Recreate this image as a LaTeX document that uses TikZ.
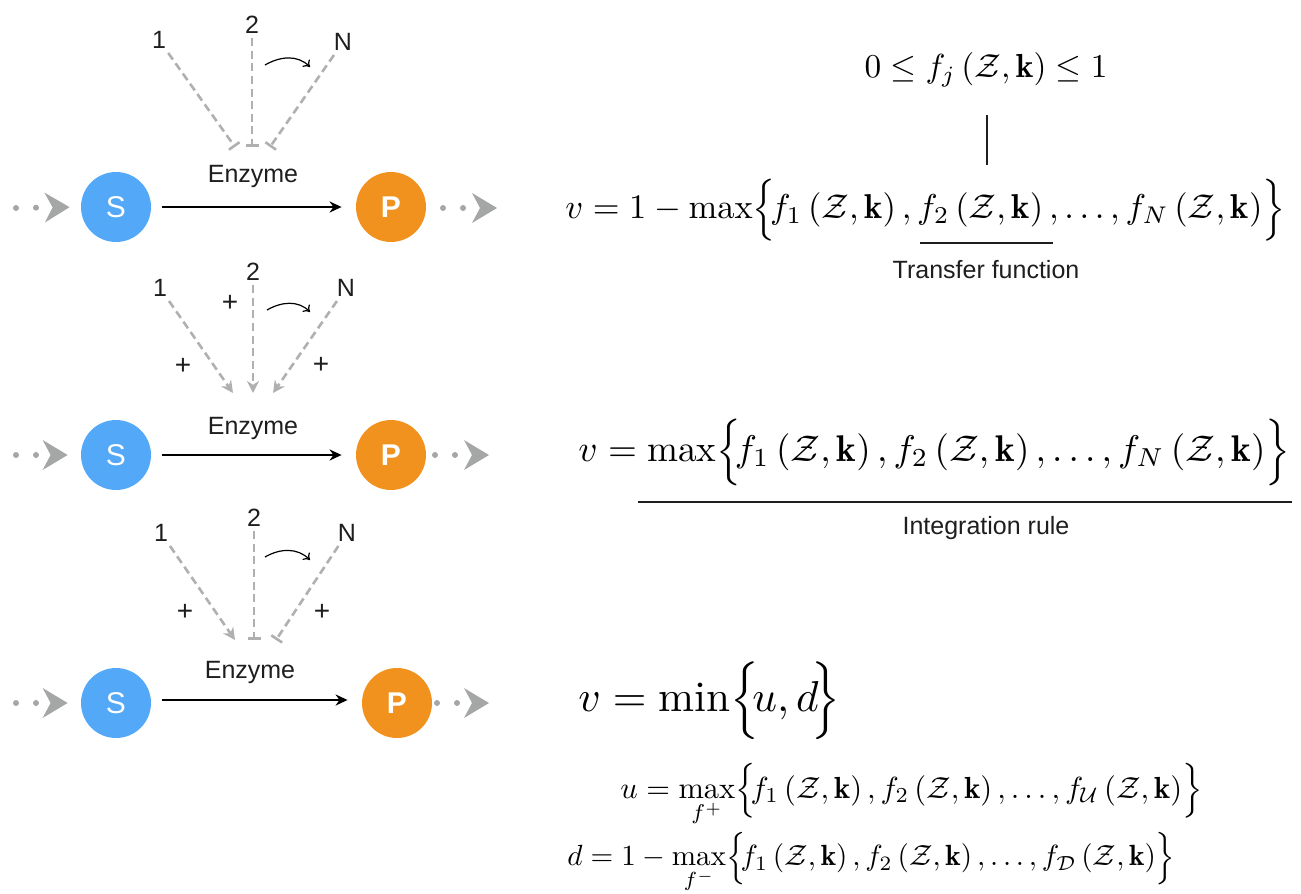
\documentclass[tikz,border=0pt]{standalone}
\usepackage{amsmath,amssymb}
\usepackage{fontspec}
\usetikzlibrary{arrows.meta}
\newfontfamily\hv{Liberation Sans}
\definecolor{sblue}{RGB}{83,168,248}
\definecolor{porange}{RGB}{242,146,30}
\definecolor{lgray}{RGB}{176,176,176}
\definecolor{cgray}{RGB}{165,167,166}
\definecolor{txt}{RGB}{30,30,30}
\newcommand{\ZK}{\left(\mathcal{Z},\mathbf{k}\right)}
\newcommand{\LB}{\!\Big\{\!}
\newcommand{\RB}{\!\Big\}}
\tikzset{
  subst/.style={circle, fill=sblue, minimum size=35pt, inner sep=0pt, text=white, font=\hv\fontsize{15}{18}\selectfont},
  prod/.style={circle, fill=porange, minimum size=35pt, inner sep=0pt, text=white, font=\hv\bfseries\fontsize{15}{18}\selectfont},
  reac/.style={line width=1.4pt, shorten <=5.5pt, shorten >=7pt, -{Stealth[length=6pt,width=5.5pt]}},
  lbl/.style={font=\hv\fontsize{12.5}{14}\selectfont, text=txt, inner sep=2pt},
  plus/.style={font=\hv\fontsize{14}{15}\selectfont, text=txt, inner sep=0pt},
  inh/.style={lgray, dash pattern=on 4pt off 2.3pt, line width=1.3pt, -{Bar[width=6.5pt]}},
  act/.style={lgray, dash pattern=on 4pt off 2.3pt, line width=1.3pt, -{Stealth[length=6pt,width=6pt]}},
  feed/.style={cgray, line width=3pt, line cap=round, dash pattern=on 0pt off 10pt, -{Stealth[length=12.5pt,width=15pt,inset=4pt,line width=0pt]}},
  swirl/.style={line width=0.6pt, -{To[length=3pt,width=5pt]}},
  eq/.style={anchor=west, inner sep=0pt},
  rule/.style={line width=0.6pt, txt}
}
\begin{document}
\begin{tikzpicture}[x=0.5pt,y=-0.5pt]
\useasboundingbox (0,0) rectangle (1301,894);

% ---------- Row 1 (inhibition) ----------
\node[subst] (S1) at (116,207) {S};
\node[prod] (P1) at (391,207) {P};
\draw[reac] (S1) -- (P1);
\node[lbl] (E1) at (253,176) {Enzyme};
\coordinate (in1) at (16,208);
\coordinate (o1s) at (443,208);
\coordinate (o1) at (497,208);
\draw[feed, shorten >=5.5pt] (in1) -- (S1.west);
\draw[feed] (o1s) -- (o1);
\node[lbl] (a1) at (159,40) {1};
\node[lbl] (b1) at (252,25) {2};
\node[lbl] (n1) at (343,42) {N};
\coordinate (ta1) at (235,147);
\coordinate (tb1) at (252,147);
\coordinate (tn1) at (270,147);
\draw[inh] (a1) -- (ta1);
\draw[inh] (b1) -- (tb1);
\draw[inh] (n1) -- (tn1);
\coordinate (c1a) at (265,65);
\coordinate (c1b) at (310,67);
\draw[swirl] (c1a) to[out=30,in=135] (c1b);

% ---------- Row 2 (activation) ----------
\node[subst] (S2) at (116,455) {S};
\node[prod] (P2) at (391,455) {P};
\draw[reac] (S2) -- (P2);
\node[lbl] (E2) at (253,428) {Enzyme};
\coordinate (in2) at (16,455);
\coordinate (o2s) at (435,455);
\coordinate (o2) at (489,455);
\draw[feed, shorten >=6.5pt] (in2) -- (S2.west);
\draw[feed] (o2s) -- (o2);
\node[lbl] (a2) at (160,288) {1};
\node[lbl] (b2) at (253,272) {2};
\node[lbl] (n2) at (346,288) {N};
\coordinate (ta2) at (233,393);
\coordinate (tb2) at (253,393);
\coordinate (tn2) at (273,393);
\draw[act] (a2) -- (ta2);
\draw[act] (b2) -- (tb2);
\draw[act] (n2) -- (tn2);
\node[plus] (p2b) at (230,303) {+};
\node[plus] (p2a) at (183,366) {+};
\node[plus] (p2n) at (321,365) {+};
\coordinate (c2a) at (267,310);
\coordinate (c2b) at (310,312);
\draw[swirl] (c2a) to[out=30,in=135] (c2b);

% ---------- Row 3 (mixed) ----------
\node[subst] (S3) at (116,703) {S};
\node[prod] (P3) at (397,703) {P};
\draw[reac] (S3.east |- 0,700) -- (P3.west |- 0,700);
\node[lbl] (E3) at (250,672) {Enzyme};
\coordinate (in3) at (16,703);
\coordinate (o3s) at (437,703);
\coordinate (o3) at (489,703);
\draw[feed, shorten >=6.5pt] (in3) -- (S3.west);
\draw[feed] (o3s) -- (o3);
\node[lbl] (a3) at (161,533) {1};
\node[lbl] (b3) at (254,518) {2};
\node[lbl] (n3) at (347,533) {N};
\coordinate (ta3) at (235,640);
\coordinate (tb3) at (254,640);
\coordinate (tn3) at (276,640);
\draw[act] (a3) -- (ta3);
\draw[inh] (b3) -- (tb3);
\draw[inh] (n3) -- (tn3);
\node[plus] (p3a) at (185,612) {+};
\node[plus] (p3n) at (322,612) {+};
\coordinate (c3a) at (265,557);
\coordinate (c3b) at (310,560);
\draw[swirl] (c3a) to[out=30,in=135] (c3b);

% ---------- Equations ----------
\node[inner sep=0pt] (ineq) at (986,70) {\resizebox{121.5pt}{!}{$0\leq f_j\ZK\leq 1$}};
\coordinate (vl1) at (987,115);
\coordinate (vl2) at (987,165);
\draw[rule] (vl1) -- (vl2);
\node[eq] (eq1) at (565,210) {\resizebox{360pt}{!}{$v = 1-\max\LB f_1\ZK,f_2\ZK,\ldots,f_N\ZK\RB$}};
\coordinate (u1a) at (920,243);
\coordinate (u1b) at (1053,243);
\draw[rule] (u1a) -- (u1b);
\node[lbl] (tf) at (986,270) {Transfer function};

\node[eq] (eq2) at (578,452) {\resizebox{356pt}{!}{$v = \max\LB f_1\ZK,f_2\ZK,\ldots,f_N\ZK\RB$}};
\coordinate (u2a) at (638,502);
\coordinate (u2b) at (1292,502);
\draw[rule] (u2a) -- (u2b);
\node[lbl] (ir) at (986,528) {Integration rule};

\node[eq] (eq3) at (578,701) {\resizebox{131pt}{!}{$v = \min\LB u,d\RB$}};
\node[eq] (eq4) at (620,795) {\resizebox{291pt}{!}{$u = \max\limits_{f^+}\LB f_1\ZK,f_2\ZK,\ldots,f_{\mathcal{U}}\ZK\RB$}};
\node[eq] (eq5) at (567,863) {\resizebox{304pt}{!}{$d = 1-\max\limits_{f^-}\LB f_1\ZK,f_2\ZK,\ldots,f_{\mathcal{D}}\ZK\RB$}};
\end{tikzpicture}
\end{document}
